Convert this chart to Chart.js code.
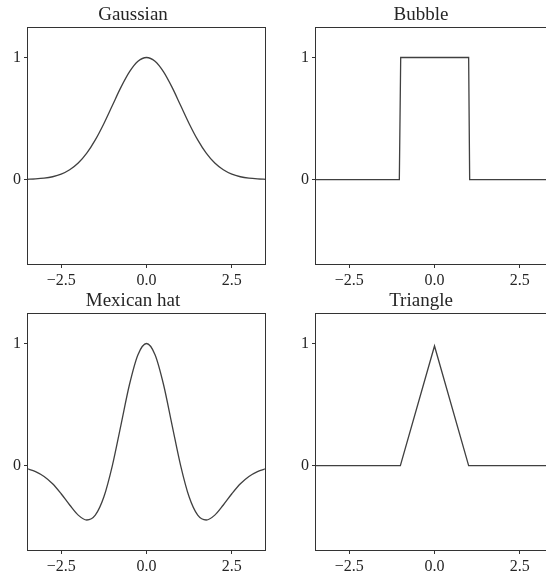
<!DOCTYPE html>
<html>
<head>
<meta charset="utf-8">
<script src="https://cdn.jsdelivr.net/npm/chart.js@4"></script>
<style>
html, body { margin: 0; padding: 0; background: #fff; overflow: hidden; }
body { width: 546px; height: 575px; position: relative; }
canvas { position: absolute; }
</style>
</head>
<body>
<canvas id="gaussian" width="273" height="292" style="left:0px;top:0px"></canvas>
<canvas id="bubble" width="273" height="292" style="left:288px;top:0px"></canvas>
<canvas id="mexican" width="273" height="292" style="left:0px;top:286px"></canvas>
<canvas id="triangle" width="273" height="292" style="left:288px;top:286px"></canvas>
<script>
// sample points
const curveX = [-3.5, -3.25, -3.0, -2.75, -2.5, -2.25, -2.0, -1.75, -1.5, -1.25, -1.0, -0.75, -0.5, -0.25, 0.0,
    0.25, 0.5, 0.75, 1.0, 1.25, 1.5, 1.75, 2.0, 2.25, 2.5, 2.75, 3.0, 3.25, 3.5];
const gaussianY = [0.002, 0.005, 0.011, 0.023, 0.044, 0.080, 0.135, 0.216, 0.325, 0.458, 0.607, 0.755, 0.882, 0.969, 1.0,
    0.969, 0.882, 0.755, 0.607, 0.458, 0.325, 0.216, 0.135, 0.080, 0.044, 0.023, 0.011, 0.005, 0.002];
const mexicanY = [-0.025, -0.049, -0.089, -0.149, -0.231, -0.323, -0.406, -0.446, -0.406, -0.258, 0.0, 0.330, 0.662, 0.908, 1.0,
    0.908, 0.662, 0.330, 0.0, -0.258, -0.406, -0.446, -0.406, -0.323, -0.231, -0.149, -0.089, -0.049, -0.025];
const bubbleX = [-3.5, -1.03, -0.99, 1.0, 1.03, 3.5];
const bubbleY = [0, 0, 1, 1, 0, 0];
const triangleX = [-3.5, -1.0, 0.0, 1.0, 3.5];
const triangleY = [0, 0, 0.98, 0, 0];

const xTicks = [-2.5, 0, 2.5];
const xTickLabels = ["\u22122.5", "0.0", "2.5"];
const yTicks = [0, 1];
const yTickLabels = ["0", "1"];

const textColor = "#262626";
const lineColor = "#404040";

const frame = {
    id: "frame",
    afterDraw(chart) {
        const a = chart.chartArea;
        const c = chart.ctx;
        c.save();
        c.strokeStyle = "#333";
        c.lineWidth = 1;
        const l = Math.round(a.left) + 0.5, t = Math.round(a.top) + 0.5;
        const r = Math.round(a.right) - 0.5, b = Math.round(a.bottom) - 0.5;
        c.strokeRect(l, t, r - l, b - t);
        c.restore();
    }
};

function makePanel(id, title, xs, ys, smooth) {
    const ctx = document.getElementById(id).getContext("2d");
    new Chart(ctx, {
        type: "line",
        data: {
            datasets: [{
                data: xs.map((x, i) => ({x: x, y: ys[i]})),
                borderColor: lineColor,
                borderWidth: 1.3,
                pointRadius: 0,
                fill: false,
                cubicInterpolationMode: smooth ? "monotone" : "default",
                tension: 0
            }]
        },
        options: {
            responsive: false,
            animation: false,
            devicePixelRatio: 1,
            layout: {padding: {left: 0, right: 7, top: 0, bottom: 0}},
            plugins: {
                legend: {display: false},
                tooltip: {enabled: false},
                title: {
                    display: true,
                    text: title,
                    color: textColor,
                    font: {family: "Liberation Serif", size: 19, weight: "normal", lineHeight: 1.2},
                    padding: {top: 4, bottom: 0.2}
                }
            },
            scales: {
                x: {
                    type: "linear",
                    min: -3.5,
                    max: 3.5,
                    afterBuildTicks: axis => { axis.ticks = xTicks.map(v => ({value: v})); },
                    afterFit: axis => { axis.height = 27; },
                    ticks: {
                        color: textColor,
                        font: {family: "Liberation Serif", size: 16},
                        padding: 3,
                        maxRotation: 0,
                        callback: (v, i) => xTickLabels[i]
                    },
                    grid: {display: true, drawOnChartArea: false, drawTicks: true, tickLength: 3, color: "#333"},
                    border: {display: false}
                },
                y: {
                    type: "linear",
                    min: -0.7,
                    max: 1.25,
                    afterBuildTicks: axis => { axis.ticks = yTicks.map(v => ({value: v})); },
                    afterFit: axis => { axis.width = 27; },
                    ticks: {
                        color: textColor,
                        font: {family: "Liberation Serif", size: 16},
                        padding: 3,
                        callback: (v, i) => yTickLabels[i]
                    },
                    grid: {display: true, drawOnChartArea: false, drawTicks: true, tickLength: 3, color: "#333"},
                    border: {display: false}
                }
            }
        },
        plugins: [frame]
    });
}

makePanel("gaussian", "Gaussian", curveX, gaussianY, true);
makePanel("bubble", "Bubble", bubbleX, bubbleY, false);
makePanel("mexican", "Mexican hat", curveX, mexicanY, true);
makePanel("triangle", "Triangle", triangleX, triangleY, false);
</script>
</body>
</html>
